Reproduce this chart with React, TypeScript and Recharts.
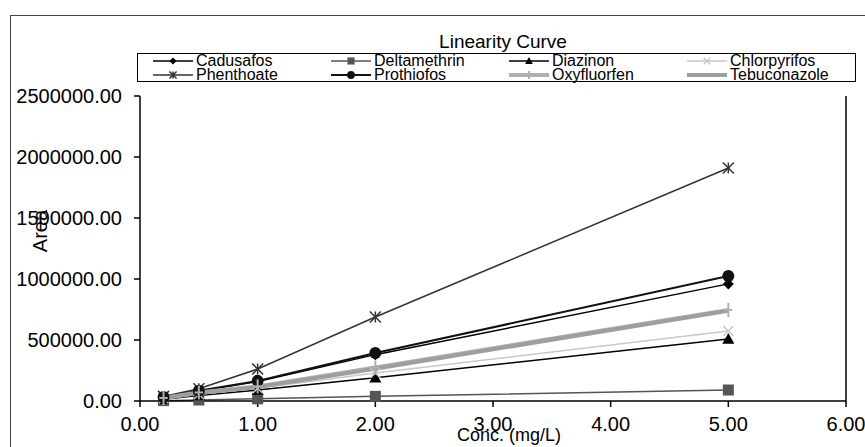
import { LineChart, Line, XAxis, YAxis, Legend, ReferenceLine } from "recharts";

const conc = [0.2, 0.5, 1, 2, 5];

const cadusafos = [30000, 80000, 160000, 380000, 960000];
const deltamethrin = [3000, 8000, 18000, 38000, 90000];
const diazinon = [15000, 45000, 90000, 190000, 508000];
const chlorpyrifos = [20000, 55000, 105000, 230000, 574000];
const phenthoate = [38000, 100000, 262000, 689000, 1910000];
const prothiofos = [32000, 85000, 165000, 393000, 1025000];
const oxyfluorfen = [25000, 70000, 120000, 275000, 746000];
const tebuconazole = [25000, 65000, 115000, 265000, 740000];

const xTicks = [0, 1, 2, 3, 4, 5, 6];
const yTicks = [0, 500000, 1000000, 1500000, 2000000, 2500000];

const FONT = '"Liberation Sans", Arial, sans-serif';

type Shape = "diamond" | "square" | "triangle" | "x" | "asterisk" | "circle" | "plus" | "none";

const SERIES: { name: string; values: number[]; color: string; width: number; shape: Shape; size: number }[] = [
  { name: "Cadusafos", values: cadusafos, color: "#000", width: 1.5, shape: "diamond", size: 11 },
  { name: "Deltamethrin", values: deltamethrin, color: "#555", width: 1.5, shape: "square", size: 11 },
  { name: "Diazinon", values: diazinon, color: "#000", width: 1.5, shape: "triangle", size: 12 },
  { name: "Chlorpyrifos", values: chlorpyrifos, color: "#c8c8c8", width: 1.5, shape: "x", size: 10 },
  { name: "Phenthoate", values: phenthoate, color: "#333", width: 1.5, shape: "asterisk", size: 11 },
  { name: "Prothiofos", values: prothiofos, color: "#111", width: 2, shape: "circle", size: 12 },
  { name: "Oxyfluorfen", values: oxyfluorfen, color: "#b0b0b0", width: 4, shape: "plus", size: 14 },
  { name: "Tebuconazole", values: tebuconazole, color: "#9e9e9e", width: 4, shape: "none", size: 0 },
];

const data = conc.map((c, i) => {
  const row: Record<string, number> = { conc: c };
  SERIES.forEach((s) => (row[s.name] = s.values[i]));
  return row;
});

function Marker({ shape, cx, cy, color, size }: { shape: Shape; cx: number; cy: number; color: string; size: number }) {
  const h = size / 2;
  switch (shape) {
    case "diamond":
      return <polygon points={`${cx},${cy - h} ${cx + h},${cy} ${cx},${cy + h} ${cx - h},${cy}`} fill={color} />;
    case "square":
      return <rect x={cx - h} y={cy - h} width={size} height={size} fill={color} />;
    case "triangle":
      return <polygon points={`${cx},${cy - h} ${cx + h},${cy + h * 0.8} ${cx - h},${cy + h * 0.8}`} fill={color} />;
    case "circle":
      return <circle cx={cx} cy={cy} r={h} fill={color} />;
    case "x":
      return (
        <g stroke={color} strokeWidth={1.5}>
          <line x1={cx - h} y1={cy - h} x2={cx + h} y2={cy + h} />
          <line x1={cx - h} y1={cy + h} x2={cx + h} y2={cy - h} />
        </g>
      );
    case "asterisk":
      return (
        <g stroke={color} strokeWidth={1.5}>
          <line x1={cx - h} y1={cy - h} x2={cx + h} y2={cy + h} />
          <line x1={cx - h} y1={cy + h} x2={cx + h} y2={cy - h} />
          <line x1={cx} y1={cy - h} x2={cx} y2={cy + h} />
        </g>
      );
    case "plus":
      return (
        <g stroke={color} strokeWidth={2}>
          <line x1={cx} y1={cy - h} x2={cx} y2={cy + h} />
          <line x1={cx - h * 0.6} y1={cy} x2={cx + h * 0.6} y2={cy} />
        </g>
      );
    default:
      return null;
  }
}

const renderLegend = () => (
  <div
    style={{
      display: "grid",
      gridTemplateColumns: "repeat(4, 178px)",
      paddingLeft: 15,
      fontFamily: FONT,
      fontSize: 16,
      lineHeight: "14px",
    }}
  >
    {SERIES.map((s) => (
      <div key={s.name} style={{ display: "flex", alignItems: "center", height: 14 }}>
        <svg width={42} height={14} style={{ flex: "none" }}>
          <line x1={0} y1={7} x2={40} y2={7} stroke={s.color} strokeWidth={s.width} />
          <Marker shape={s.shape} cx={20} cy={7} color={s.color} size={Math.min(s.size * 0.65, 8)} />
        </svg>
        <span style={{ color: "#000", marginLeft: 1 }}>{s.name}</span>
      </div>
    ))}
  </div>
);

const renderYLabel = () => (
  <text x={40} y={231} transform="rotate(-90, 40, 231)" textAnchor="middle" dominantBaseline="central" fontFamily={FONT} fontSize={20} fill="#000">
    Area
  </text>
);

const renderXLabel = () => (
  <text x={509} y={441} textAnchor="middle" fontFamily={FONT} fontSize={18} fill="#000">
    Conc. (mg/L)
  </text>
);

export default function App() {
  return (
    <div style={{ position: "absolute", left: 0, top: 0, width: 865, height: 447, background: "#fff" }}>
      <div
        style={{
          position: "absolute",
          left: 10,
          top: 15,
          width: 860,
          height: 440,
          borderLeft: "1px solid #444",
          borderTop: "1px solid #444",
        }}
      />
      <div
        style={{
          position: "absolute",
          left: 403,
          width: 200,
          top: 31,
          textAlign: "center",
          fontFamily: FONT,
          fontSize: 19,
          lineHeight: "22px",
        }}
      >
        Linearity Curve
      </div>
      <LineChart width={865} height={447} data={data} margin={{ top: 96, right: 19, bottom: 0, left: 0 }}>
        <XAxis
          dataKey="conc"
          type="number"
          domain={[0, 6]}
          ticks={xTicks}
          tickFormatter={(v: number) => v.toFixed(2)}
          height={46}
          tickSize={6}
          tickMargin={10}
          axisLine={{ stroke: "#000", strokeWidth: 1.5 }}
          tickLine={{ stroke: "#000", strokeWidth: 1.5 }}
          tick={{ fill: "#000", fontSize: 20, fontFamily: FONT }}
          label={renderXLabel}
        />
        <YAxis
          type="number"
          domain={[0, 2500000]}
          ticks={yTicks}
          tickFormatter={(v: number) => v.toFixed(2)}
          width={140}
          tickSize={6}
          tickMargin={12}
          axisLine={{ stroke: "#000", strokeWidth: 1.5 }}
          tickLine={{ stroke: "#000", strokeWidth: 1.5 }}
          tick={{ fill: "#000", fontSize: 20, fontFamily: FONT }}
          label={renderYLabel}
        />
        <ReferenceLine x={6} stroke="#000" strokeWidth={1.5} />
        {SERIES.map((s) => (
          <Line
            key={s.name}
            type="linear"
            dataKey={s.name}
            stroke={s.color}
            strokeWidth={s.width}
            isAnimationActive={false}
            dot={(p: any) => (
              <Marker key={`${s.name}-${p.index}`} shape={s.shape} cx={p.cx} cy={p.cy} color={s.color} size={s.size} />
            )}
            activeDot={false}
          />
        ))}
        <Legend
          layout="horizontal"
          verticalAlign="middle"
          content={renderLegend}
          wrapperStyle={{
            position: "absolute",
            left: 137,
            top: 53,
            width: 719,
            height: 29,
            border: "1px solid #000",
            background: "#fff",
            boxSizing: "border-box",
          }}
        />
      </LineChart>
    </div>
  );
}
